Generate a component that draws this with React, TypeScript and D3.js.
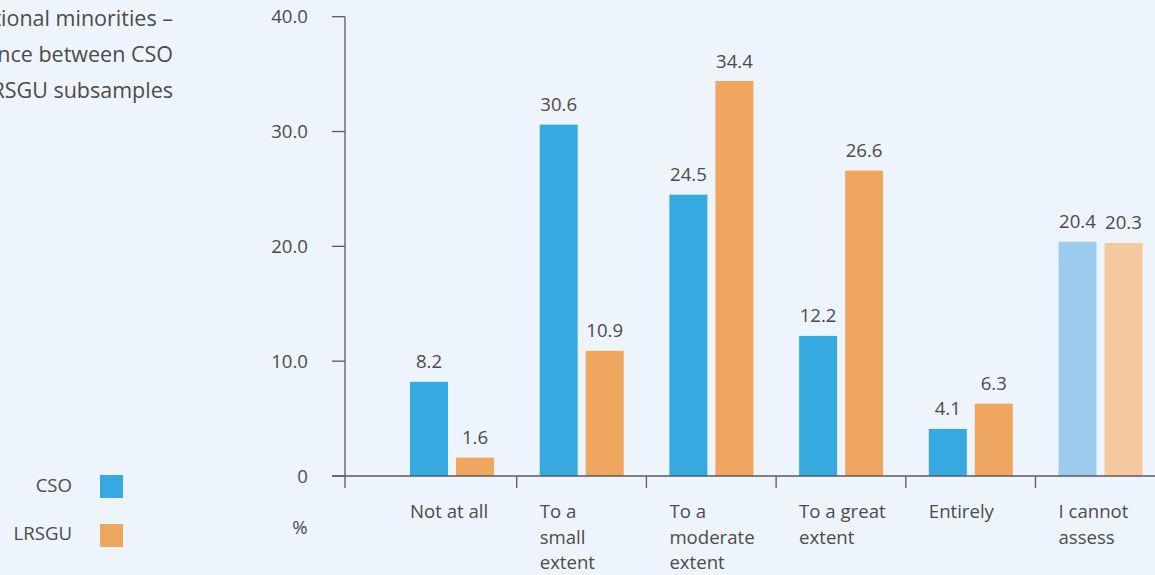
import React from "react";
import * as d3 from "d3";

const categories: string[][] = [
  ["Not at all"],
  ["To a", "small", "extent"],
  ["To a", "moderate", "extent"],
  ["To a great", "extent"],
  ["Entirely"],
  ["I cannot", "assess"],
];
const cso: number[] = [8.2, 30.6, 24.5, 12.2, 4.1, 20.4];
const lrsgu: number[] = [1.6, 10.9, 34.4, 26.6, 6.3, 20.3];
const yTicks: number[] = [0, 10, 20, 30, 40];
const yTickLabels: string[] = ["0", "10.0", "20.0", "30.0", "40.0"];
const seriesNames: string[] = ["CSO", "LRSGU"];
const titleLines: string[] = ["tional minorities –", "nce between CSO", "RSGU subsamples"];

const W = 1155;
const H = 575;
const FONT = "'Open Sans', sans-serif";
const TXT = "#4b4b4b";
const AX = "#5a5a5a";
const colors = ["#36a9e1", "#efa65f"];
const lightColors = ["#9ccbee", "#f5c99e"];
const FS = 18.6;

export default function App() {
  const y = d3.scaleLinear().domain([0, 40]).range([476, 16.7]);
  const keys = categories.map((_, i) => String(i));
  const x = d3.scaleBand<string>().domain(keys).range([387, 387 + 6 * 129.7]).padding(0);
  const inner = d3
    .scaleBand<string>()
    .domain(seriesNames)
    .range([23, 107])
    .paddingInner(8 / 46)
    .paddingOuter(0);
  const series = [cso, lrsgu];
  const axisX = 345;

  return (
    <svg
      width={W}
      height={H}
      style={{ position: "absolute", left: 0, top: 0, fontFamily: FONT }}
    >
      <rect x={0} y={0} width={W} height={H} fill="#eef4fc" />

      {/* title (clipped on the left, as in the source) */}
      {titleLines.map((t, i) => (
        <text key={i} x={173} y={26 + i * 36} textAnchor="end" fontSize={21.5} fill={TXT}>
          {t}
        </text>
      ))}

      {/* bars */}
      {keys.map((k, ci) =>
        seriesNames.map((s, si) => {
          const v = series[si][ci];
          const bx = (x(k) as number) + (inner(s) as number);
          const bw = inner.bandwidth();
          const last = ci === keys.length - 1;
          return (
            <g key={k + s}>
              <rect
                x={bx}
                y={y(v)}
                width={bw}
                height={y(0) - y(v)}
                fill={last ? lightColors[si] : colors[si]}
              />
              <text
                x={bx + bw / 2}
                y={y(v) - 13.5}
                textAnchor="middle"
                fontSize={FS}
                fill={TXT}
              >
                {v.toFixed(1)}
              </text>
            </g>
          );
        })
      )}

      {/* y axis */}
      <line x1={axisX} x2={axisX} y1={y(40)} y2={488} stroke={AX} strokeWidth={1.3} />
      {yTicks.map((t, i) => (
        <g key={t}>
          <line x1={332} x2={axisX} y1={y(t)} y2={y(t)} stroke={AX} strokeWidth={1.3} />
          <text x={308} y={y(t) + 6.5} textAnchor="end" fontSize={FS} fill={TXT}>
            {yTickLabels[i]}
          </text>
        </g>
      ))}
      <text x={300} y={534} textAnchor="middle" fontSize={FS} fill={TXT}>
        %
      </text>

      {/* x axis */}
      <line x1={332} x2={W} y1={y(0)} y2={y(0)} stroke={AX} strokeWidth={1.3} />
      {keys.slice(1).map((k) => (
        <line
          key={k}
          x1={x(k) as number}
          x2={x(k) as number}
          y1={y(0)}
          y2={488}
          stroke={AX}
          strokeWidth={1.3}
        />
      ))}
      {keys.map((k, ci) => (
        <text key={k} fontSize={FS} fill={TXT}>
          {categories[ci].map((line, li) => (
            <tspan
              key={li}
              x={(x(k) as number) + (inner(seriesNames[0]) as number)}
              y={518 + li * 25.5}
            >
              {line}
            </tspan>
          ))}
        </text>
      ))}

      {/* legend */}
      {seriesNames.map((s, i) => (
        <g key={s}>
          <text x={72} y={492 + i * 47.5} textAnchor="end" fontSize={FS} fill={TXT}>
            {s}
          </text>
          <rect x={100} y={475 + i * 49} width={23} height={23} fill={colors[i]} />
        </g>
      ))}
    </svg>
  );
}
